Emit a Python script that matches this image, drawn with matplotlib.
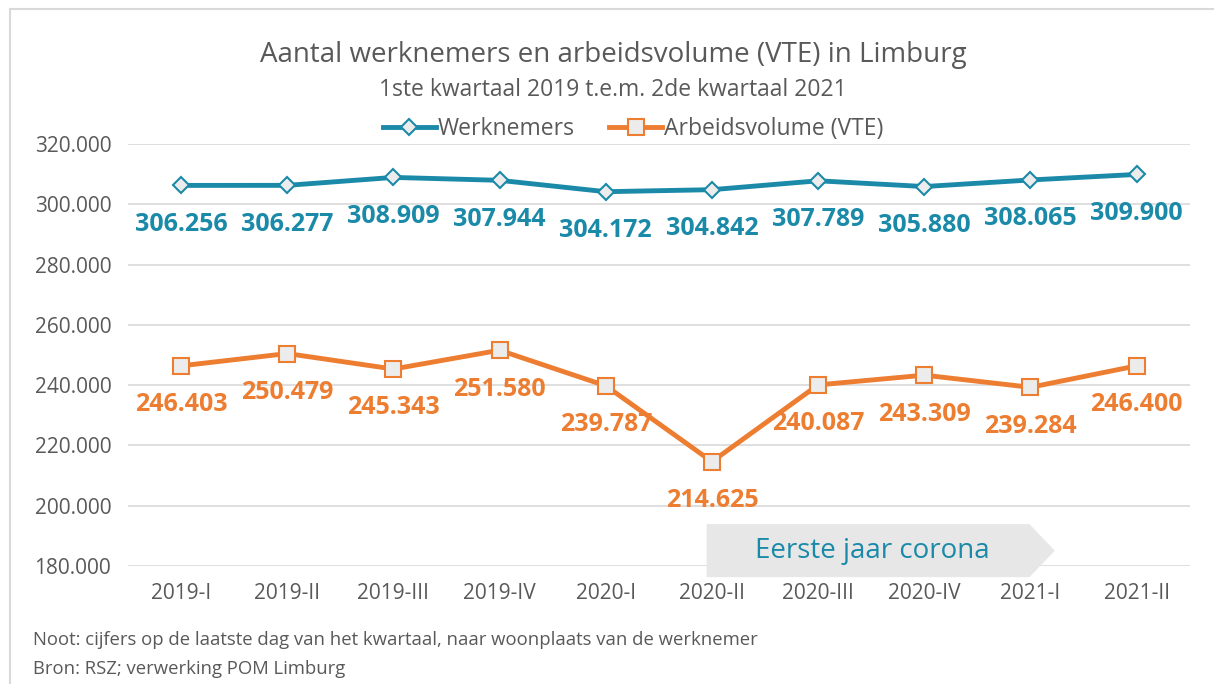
import numpy as np
import matplotlib.pyplot as plt
from matplotlib.patches import Polygon, Rectangle
from matplotlib.ticker import FuncFormatter

plt.rcParams['font.family'] = ['Open Sans', 'DejaVu Sans']

quarters = ['2019-I', '2019-II', '2019-III', '2019-IV', '2020-I',
            '2020-II', '2020-III', '2020-IV', '2021-I', '2021-II']
werknemers = [306256, 306277, 308909, 307944, 304172,
              304842, 307789, 305880, 308065, 309900]
arbeidsvolume = [246403, 250479, 245343, 251580, 239787,
                 214625, 240087, 243309, 239284, 246400]

TEAL = '#1a8aa8'
ORANGE = '#ed7d31'
GREY = '#595959'


def dotted(v):
    return f'{int(round(v)):,}'.replace(',', '.')


fig = plt.figure(figsize=(12.14, 6.84), dpi=100)
ax = fig.add_axes([0.1054, 0.1725, 0.8746, 0.617])

x = np.arange(len(quarters))
ax.plot(x, werknemers, color=TEAL, lw=3.5, marker='D', ms=8.5,
        mfc='#ececec', mec=TEAL, mew=1.5, label='Werknemers', zorder=3)
ax.plot(x, arbeidsvolume, color=ORANGE, lw=3.5, marker='s', ms=11,
        mfc='#ececec', mec=ORANGE, mew=1.5, label='Arbeidsvolume (VTE)', zorder=3)

for xi, v in zip(x, werknemers):
    ax.annotate(dotted(v), (xi, v), xytext=(0, -28), textcoords='offset points',
                ha='center', va='center', color=TEAL, fontsize=18, fontweight='bold')
for xi, v in zip(x, arbeidsvolume):
    ax.annotate(dotted(v), (xi, v), xytext=(0, -28), textcoords='offset points',
                ha='center', va='center', color=ORANGE, fontsize=18, fontweight='bold')

ax.set_xlim(-0.5, len(quarters) - 0.5)
ax.set_ylim(180000, 320000)
ax.set_yticks(np.arange(180000, 320001, 20000))
ax.yaxis.set_major_formatter(FuncFormatter(lambda v, p: dotted(v)))
ax.set_xticks(x)
ax.set_xticklabels(quarters)
ax.tick_params(axis='both', length=0, colors=GREY)
ax.tick_params(axis='x', pad=12, labelsize=15)
ax.tick_params(axis='y', pad=12, labelsize=15)
ax.grid(axis='y', color='#d9d9d9', lw=1.2)
ax.set_axisbelow(True)
for s in ax.spines.values():
    s.set_visible(False)

# "Eerste jaar corona" arrow
x0, x1, xt = 4.95, 7.99, 8.23
y0, y1 = 176300, 193900
arrow = Polygon([(x0, y0), (x1, y0), (xt, (y0 + y1) / 2), (x1, y1), (x0, y1)],
                closed=True, fc='#e7e7e7', ec='none', clip_on=False, zorder=4)
ax.add_patch(arrow)
ax.text((x0 + x1) / 2 + 0.04, (y0 + y1) / 2, 'Eerste jaar corona', ha='center',
        va='center', color=TEAL, fontsize=20, zorder=5)

leg = ax.legend(loc='lower center', bbox_to_anchor=(0.476, 0.985), ncol=2,
                frameon=False, fontsize=16.5, handlelength=2.3, columnspacing=1.5,
                handletextpad=0.1, borderaxespad=0)
for t in leg.get_texts():
    t.set_color(GREY)

fig.text(0.505, 0.919, 'Aantal werknemers en arbeidsvolume (VTE) in Limburg',
         ha='center', va='center', fontsize=20, color=GREY)
fig.text(0.505, 0.869, '1ste kwartaal 2019 t.e.m. 2de kwartaal 2021',
         ha='center', va='center', fontsize=16.5, color=GREY)
fig.text(0.027, 0.064, 'Noot: cijfers op de laatste dag van het kwartaal, naar woonplaats van de werknemer',
         ha='left', va='center', fontsize=13.3, color=GREY)
fig.text(0.027, 0.022, 'Bron: RSZ; verwerking POM Limburg',
         ha='left', va='center', fontsize=13.3, color=GREY)

fig.patches.append(Rectangle((0.008, -0.01), 1.1, 0.997, transform=fig.transFigure,
                             fill=False, ec='#d9d9d9', lw=1.5))

fig.savefig('out.png', dpi=100)
